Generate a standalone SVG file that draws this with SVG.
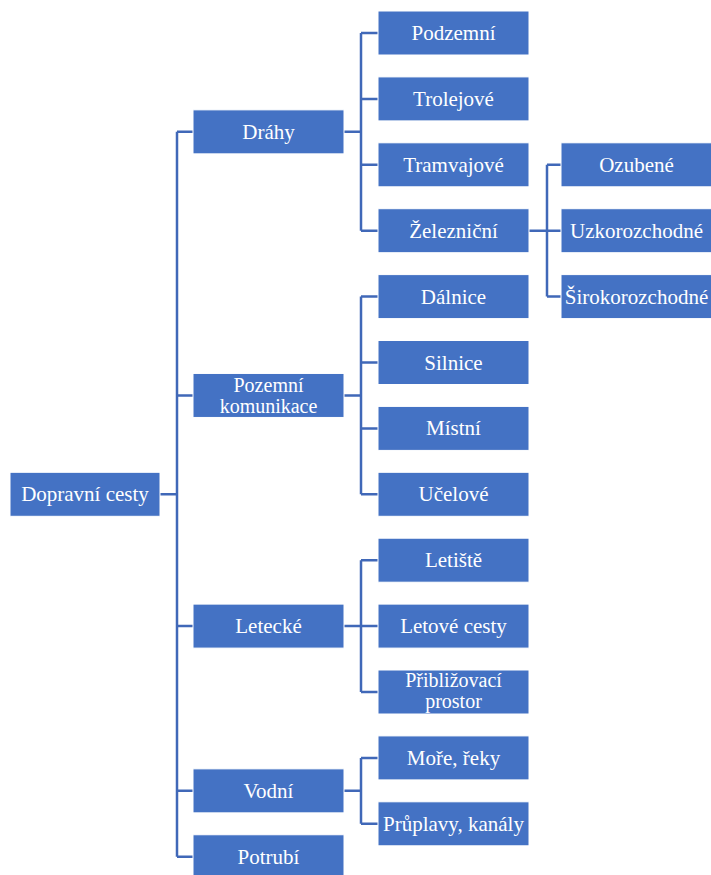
<svg xmlns="http://www.w3.org/2000/svg" width="711" height="875" viewBox="0 0 711 875">
<style>
.b{fill:#4472C4;stroke:#ffffff;stroke-width:1}
.t{font-family:'Times New Roman','Liberation Serif',Tinos,'Nimbus Roman','DejaVu Serif','Noto Serif',serif;font-size:21px;fill:#ffffff;text-anchor:middle}
.t2{font-size:20px}
.c{fill:none;stroke:#4068B8;stroke-width:2.5}
</style>
<rect width="711" height="875" fill="#ffffff"/>
<g id="connectors">
<path class="c" d="M160,494.3H177M177,131.85V856.75M177,131.85H193M177,395.45H193M177,626.1H193M177,790.85H193M177,856.75H193"/>
<path class="c" d="M344,131.85H361M361,33V230.7M361,33H378M361,98.9H378M361,164.8H378M361,230.7H378"/>
<path class="c" d="M344,395.45H361M361,296.6V494.3M361,296.6H378M361,362.5H378M361,428.4H378M361,494.3H378"/>
<path class="c" d="M344,626.1H361M361,560.2V692M361,560.2H378M361,626.1H378M361,692H378"/>
<path class="c" d="M344,790.85H361M361,757.9V823.8M361,757.9H378M361,823.8H378"/>
<path class="c" d="M529,230.7H547M547,164.8V296.6M547,164.8H561M547,230.7H561M547,296.6H561"/>
</g>
<g id="root"><rect class="b" x="10" y="472.3" width="150" height="44"/><text class="t" x="85" y="501.3">Dopravní cesty</text></g>
<g id="drahy"><rect class="b" x="193" y="109.85" width="151" height="44"/><text class="t" x="268.5" y="138.85">Dráhy</text></g>
<g id="pozemni"><rect class="b" x="193" y="373.45" width="151" height="44"/><text class="t t2" x="268.5" y="391.5"><tspan x="268.5">Pozemní</tspan><tspan x="268.5" dy="21">komunikace</tspan></text></g>
<g id="letecke"><rect class="b" x="193" y="604.1" width="151" height="44"/><text class="t" x="268.5" y="633.1">Letecké</text></g>
<g id="vodni"><rect class="b" x="193" y="768.85" width="151" height="44"/><text class="t" x="268.5" y="797.85">Vodní</text></g>
<g id="potrubi"><rect class="b" x="193" y="834.75" width="151" height="44"/><text class="t" x="268.5" y="863.75">Potrubí</text></g>
<g id="podzemni"><rect class="b" x="378" y="11" width="151" height="44"/><text class="t" x="453.5" y="40">Podzemní</text></g>
<g id="trolejove"><rect class="b" x="378" y="76.9" width="151" height="44"/><text class="t" x="453.5" y="105.9">Trolejové</text></g>
<g id="tramvajove"><rect class="b" x="378" y="142.8" width="151" height="44"/><text class="t" x="453.5" y="171.8">Tramvajové</text></g>
<g id="zeleznicni"><rect class="b" x="378" y="208.7" width="151" height="44"/><text class="t" x="453.5" y="237.7">Železniční</text></g>
<g id="dalnice"><rect class="b" x="378" y="274.6" width="151" height="44"/><text class="t" x="453.5" y="303.6">Dálnice</text></g>
<g id="silnice"><rect class="b" x="378" y="340.5" width="151" height="44"/><text class="t" x="453.5" y="369.5">Silnice</text></g>
<g id="mistni"><rect class="b" x="378" y="406.4" width="151" height="44"/><text class="t" x="453.5" y="435.4">Místní</text></g>
<g id="ucelove"><rect class="b" x="378" y="472.3" width="151" height="44"/><text class="t" x="453.5" y="501.3">Učelové</text></g>
<g id="letiste"><rect class="b" x="378" y="538.2" width="151" height="44"/><text class="t" x="453.5" y="567.2">Letiště</text></g>
<g id="letove-cesty"><rect class="b" x="378" y="604.1" width="151" height="44"/><text class="t" x="453.5" y="633.1">Letové cesty</text></g>
<g id="priblizovaci"><rect class="b" x="378" y="670" width="151" height="44"/><text class="t t2" x="453.5" y="686.5"><tspan x="453.5">Přibližovací</tspan><tspan x="453.5" dy="21">prostor</tspan></text></g>
<g id="more"><rect class="b" x="378" y="735.9" width="151" height="44"/><text class="t" x="453.5" y="764.9">Moře, řeky</text></g>
<g id="pruplavy"><rect class="b" x="378" y="801.8" width="151" height="44"/><text class="t" x="453.5" y="830.8">Průplavy, kanály</text></g>
<g id="ozubene"><rect class="b" x="561" y="142.8" width="151" height="44"/><text class="t" x="636.5" y="171.8">Ozubené</text></g>
<g id="uzkorozchodne"><rect class="b" x="561" y="208.7" width="151" height="44"/><text class="t" x="636.5" y="237.7">Uzkorozchodné</text></g>
<g id="sirokorozchodne"><rect class="b" x="561" y="274.6" width="151" height="44"/><text class="t" x="636.5" y="303.6">Širokorozchodné</text></g>
</svg>
